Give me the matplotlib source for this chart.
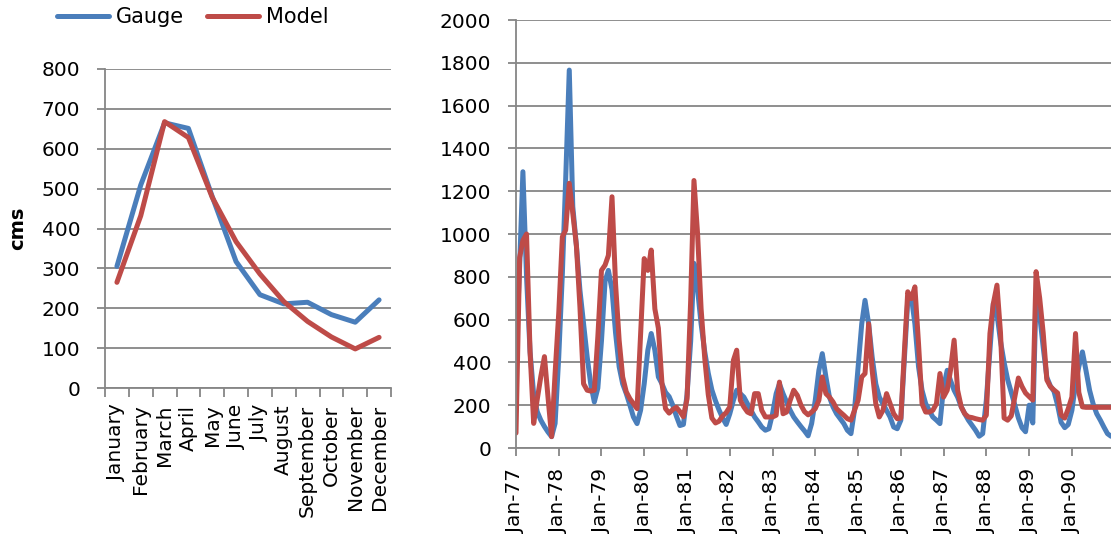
import matplotlib
matplotlib.use("Agg")
import matplotlib.pyplot as plt
import numpy as np
import pandas as pd

plt.rcParams["font.family"] = ["DejaVu Sans"]

# ---- long-term monthly means (cms) ----
months = ["January", "February", "March", "April", "May", "June", "July",
          "August", "September", "October", "November", "December"]
gauge_monthly = [305, 509, 665, 651, 480, 317, 234, 211, 215, 184, 165, 221]
model_monthly = [265, 432, 668, 628, 478, 367, 286, 217, 167, 128, 98, 127]

# ---- monthly flow series, Jan 1977 - Dec 1990 (cms) ----
series_start = "1977-01-01"
gauge_series = [
    427, 850, 1291, 800, 450, 250, 170, 130, 100, 75, 53, 115,      # 1977
    425, 815, 1250, 1766, 1128, 945, 738, 582, 425, 300, 215, 280,  # 1978
    500, 780, 830, 740, 540, 380, 300, 254, 200, 145, 114, 176,     # 1979
    300, 457, 535, 457, 332, 300, 260, 240, 200, 150, 105, 110,     # 1980
    250, 500, 863, 740, 580, 450, 350, 271, 220, 178, 140, 110,     # 1981
    160, 223, 270, 254, 238, 207, 176, 145, 122, 98, 83, 90,        # 1982
    160, 254, 300, 254, 215, 176, 145, 122, 100, 80, 57, 114,       # 1983
    223, 363, 441, 332, 238, 192, 160, 137, 114, 83, 67, 176,       # 1984
    380, 580, 690, 580, 425, 300, 238, 207, 176, 145, 98, 90,       # 1985
    130, 420, 690, 706, 580, 380, 270, 207, 176, 145, 130, 114,     # 1986
    285, 363, 316, 270, 238, 192, 160, 130, 106, 83, 55, 67,        # 1987
    223, 457, 675, 628, 500, 400, 320, 260, 200, 140, 95, 76,       # 1988
    200, 117, 720, 620, 470, 330, 290, 265, 200, 120, 95, 110,      # 1989
    176, 300, 380, 449, 363, 270, 207, 160, 130, 98, 67, 55,        # 1990
]
model_series = [
    70, 890, 970, 1000, 450, 115, 226, 334, 427, 240, 53, 350,      # 1977
    630, 987, 1018, 1237, 1097, 945, 660, 300, 270, 266, 270, 520,  # 1978
    830, 855, 900, 1174, 770, 503, 332, 262, 230, 207, 184, 530,    # 1979
    885, 830, 925, 650, 560, 300, 184, 163, 180, 190, 170, 146,     # 1980
    230, 690, 1250, 1000, 650, 420, 250, 140, 117, 125, 150, 165,   # 1981
    192, 410, 457, 223, 192, 168, 160, 254, 254, 176, 145, 145,     # 1982
    145, 153, 308, 160, 168, 223, 270, 246, 200, 170, 155, 168,     # 1983
    184, 223, 332, 254, 238, 215, 184, 168, 153, 137, 130, 176,     # 1984
    223, 332, 348, 580, 363, 207, 145, 176, 254, 207, 160, 137,     # 1985
    140, 457, 730, 698, 753, 488, 207, 168, 168, 176, 207, 348,     # 1986
    238, 270, 363, 504, 270, 192, 160, 145, 142, 137, 133, 130,     # 1987
    153, 535, 675, 761, 540, 140, 130, 150, 240, 327, 287, 257,     # 1988
    240, 224, 824, 700, 537, 318, 287, 271, 257, 154, 140, 184,     # 1989
    238, 535, 260, 192, 190, 190, 190, 190, 190, 190, 190, 190,     # 1990
]

BLUE = "#4A7EBB"
RED = "#BE4B48"
GRID = "#868686"
LW = 3.6
FS = 14.5

W, H = 1111, 537
fig = plt.figure(figsize=(W / 100, H / 100), dpi=100)
fig.patch.set_facecolor("white")

axL = fig.add_axes([105 / W, (H - 388) / H, 286 / W, 319 / H])
axR = fig.add_axes([516 / W, (H - 448) / H, 595 / W, 428 / H])

for ax in (axL, axR):
    for side in ("top", "right"):
        ax.spines[side].set_visible(False)
    for side in ("left", "bottom"):
        ax.spines[side].set_color(GRID)
        ax.spines[side].set_linewidth(1.3)
    ax.grid(axis="y", color=GRID, lw=1.3)
    ax.set_axisbelow(True)
    ax.tick_params(axis="y", length=5.8, width=1.3, color=GRID, pad=12,
                   labelsize=FS)

# ---- left: monthly means ----
pos = np.arange(len(months))
lg, = axL.plot(pos, gauge_monthly, color=BLUE, lw=LW,
               solid_capstyle="round", solid_joinstyle="round")
lm, = axL.plot(pos, model_monthly, color=RED, lw=LW,
               solid_capstyle="round", solid_joinstyle="round")
axL.set_xlim(-0.5, len(months) - 0.5)
axL.set_ylim(0, 800)
axL.set_yticks(range(0, 801, 100))
axL.set_xticks(pos, months, rotation=90, ha="center", va="top")
axL.set_xticks(np.arange(-0.5, len(months)), minor=True)
axL.tick_params(axis="x", which="major", length=0, pad=12, labelsize=FS)
axL.tick_params(axis="x", which="minor", length=6.5, width=1.3, color=GRID)

fig.text(18 / W, 1 - 228 / H, "cms", rotation=90, ha="center", va="center",
         fontsize=14, fontweight="bold")

# ---- right: monthly time series ----
dates = pd.date_range(series_start, periods=len(gauge_series), freq="MS")
axR.plot(dates, gauge_series, color=BLUE, lw=LW,
         solid_capstyle="round", solid_joinstyle="round")
axR.plot(dates, model_series, color=RED, lw=LW,
         solid_capstyle="round", solid_joinstyle="round")
axR.set_xlim(dates[0], dates[-1])
axR.set_ylim(0, 2000)
axR.set_yticks(range(0, 2001, 200))
year_ticks = pd.date_range(series_start, dates[-1], freq="YS")
axR.set_xticks(year_ticks, [d.strftime("%b-%y") for d in year_ticks],
               rotation=90, ha="center", va="top")
axR.tick_params(axis="x", length=5.8, width=1.3, color=GRID, pad=9,
                labelsize=FS)

# ---- legend ----
fig.legend([lg, lm], ["Gauge", "Model"], loc="center left",
           bbox_to_anchor=(57 / W, 1 - 17 / H), ncol=2, frameon=False,
           fontsize=15, handlelength=2.5, handletextpad=0.32,
           columnspacing=1.1, borderpad=0, borderaxespad=0)

fig.savefig("out.png", dpi=100, facecolor="white")
